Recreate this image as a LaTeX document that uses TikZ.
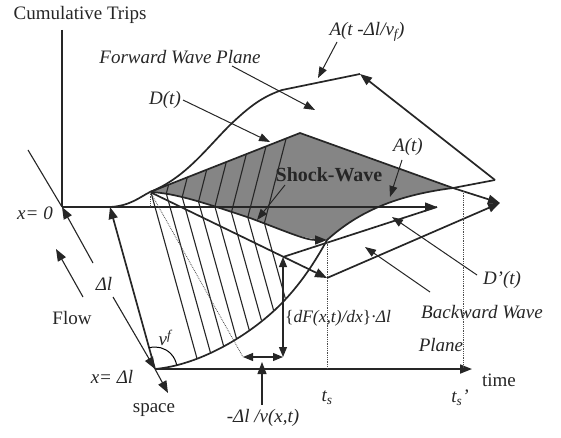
\documentclass[tikz,border=0pt]{standalone}
\usepackage{fontspec}
\setmainfont{Liberation Serif}
\usetikzlibrary{arrows.meta}
\begin{document}
\begin{tikzpicture}[x=1pt,y=-1pt,
  ln/.style={line width=1.7pt, draw=black!85},
  thn/.style={line width=1.1pt, draw=black!85},
  tip/.style={-{Triangle[length=12pt,width=9pt]}},
  ptr/.style={line width=1pt, draw=black!85, -{Triangle[length=11pt,width=8pt]}},
  dtt/.style={densely dotted, line width=0.8pt, draw=black!70},
  hatch/.style={line width=1.1pt, draw=black!85},
  lbl/.style={font=\fontsize{19}{22}\selectfont\itshape, inner sep=0pt, text=black!85},
  rlbl/.style={font=\fontsize{19}{22}\selectfont, inner sep=0pt, text=black!85}]
\fill[white] (0,0) rectangle (561,438);
\useasboundingbox (0,0) rectangle (561,438);
% points
\coordinate (O0) at (62,207);
\coordinate (V) at (62,30);
\coordinate (H) at (437,207);
\coordinate (SB) at (28,150);
\coordinate (O1) at (155,369);
\coordinate (SP) at (168,393);
\coordinate (TE) at (472,369);
\coordinate (A0) at (110,207);
\coordinate (P1) at (150,192);
\coordinate (T) at (300,133);
\coordinate (R) at (453,188);
\coordinate (S) at (327,240);
\coordinate (S2) at (327,278);
\coordinate (Q) at (500,203);
\coordinate (TT) at (360,74);
\coordinate (RR) at (495,180);
\coordinate (DA) at (283,257);
\coordinate (DB) at (283,357);
\coordinate (DL) at (243,357);
\coordinate (VA) at (262,405);
\coordinate (VB) at (262,362);
\coordinate (L1) at (93,263);
\coordinate (L2) at (113,297);
\coordinate (FA) at (83,297);
\coordinate (FB) at (56,249);
% shaded shock-wave region
\fill[black!48] (P1) -- (T) -- (R) .. controls (390,196) and (355,215) .. (S)
  .. controls (305,240) and (285,231) .. (250,218) .. controls (205,203) and (175,193) .. (P1) -- cycle;
% hatch lines (chevrons)
\draw[hatch] (151,192.5) -- (197,358.5);
\draw[hatch] (168.6,184.7) -- (166.3,193.6) -- (210.4,352.5);
\draw[hatch] (187.3,177.3) -- (182.2,197.1) -- (223.7,346.3);
\draw[hatch] (206.7,169.7) -- (198.5,201.7) -- (236.4,338.2);
\draw[hatch] (226.3,162) -- (214.9,206.6) -- (249.3,330.3);
\draw[hatch] (246.3,154.2) -- (231.4,212.4) -- (261.5,320.5);
\draw[hatch] (266,146.4) -- (247.8,217.3) -- (273.6,310.3);
\draw[hatch] (286.1,138.5) -- (264.4,223) -- (285.3,298.4);
% axes
\draw[ln] (V) -- (O0);
\draw[thn] (SB) -- (O0);
\draw[thn,tip] (O0) -- (H);
\draw[ln,tip] (O1) -- (TE);
\draw[thn,tip] (O1) -- (SP);
\draw[ln,tip] (O1) -- (A0);
\draw[thn,tip] (L1) -- (O0);
\draw[thn,tip] (L2) -- (O1);
\draw[thn,tip] (FA) -- (FB);
\draw[line width=1pt] (O1) ++(-105:22) arc (-105:-8:22);
% forward wave plane
\draw[ln] (A0) .. controls (130,206) and (140,197) .. (P1) .. controls (185,178) and (205,150) .. (230,125)
  .. controls (250,106) and (262,97) .. (282,90) -- (TT);
\draw[ln,tip] (RR) -- (TT);
\draw[ln] (RR) -- (R);
% shock wave boundaries
\draw[ln] (P1) -- (T) -- (R);
\draw[ln,tip] (P1) .. controls (175,193) and (205,203) .. (250,218) .. controls (285,231) and (305,240) .. (S);
\draw[ln] (O1) .. controls (200,365) and (250,335) .. (280,305) .. controls (300,285) and (315,262) .. (S)
  .. controls (355,215) and (390,196) .. (R);
% backward wave plane
\draw[ln,tip] (P1) -- (S2);
\draw[ln,tip] (S2) -- (Q);
\draw[ln,tip] (R) -- (Q);
\draw[ln] (DA) -- (H);
% dimensions
\draw[thn,{Triangle[length=10pt,width=8pt]}-{Triangle[length=10pt,width=8pt]}] (DA) -- (DB);
\draw[thn,{Triangle[length=10pt,width=8pt]}-{Triangle[length=10pt,width=8pt]}] (DL) -- (DB);
\draw[thn,tip] (VA) -- (VB);
\draw[dtt] (P1) -- (150,207);
\draw[dtt] (152,195) -- (DL);
\draw[dtt] (S) -- (327,369);
\draw[dtt] (463,191) -- (463,369);
% labels
\node[rlbl] (ct) at (80,15) {Cumulative Trips};
\node[lbl] (fwp) at (180,57) {Forward Wave Plane};
\node[lbl] (dt) at (165,100) {D(t)};
\node[lbl] (atf) at (367,32) {A(t -Δl/v\textsubscript{f})};
\node[lbl] (at) at (408,147) {A(t)};
\node[font=\fontsize{20}{22}\selectfont\bfseries, inner sep=0pt, text=black!85] (sw) at (329,175) {Shock-Wave};
\node[lbl] (x0) at (35,213) {x= 0};
\node[lbl] (dl) at (104,284) {Δl};
\node[rlbl] (flow) at (72,318) {Flow};
\node[lbl] (vf) at (165,338) {v\textsuperscript{f}};
\node[lbl] (xdl) at (112,377) {x= Δl};
\node[rlbl] (space) at (154,410) {space};
\node[lbl] (dlv) at (263,418) {-Δl /v(x,t)};
\node[font=\fontsize{17.5}{20}\selectfont\itshape, inner sep=0pt, text=black!85] (dfdx) at (338,318) {{\upshape\{}dF(x,t)/dx{\upshape\}}·Δl};
\node[lbl] (dp) at (502,280) {D’(t)};
\node[lbl] (bw) at (482,312) {Backward Wave};
\node[lbl] (pl) at (441,345) {Plane};
\node[rlbl] (time) at (499,380) {time};
\node[lbl] (ts) at (327,398) {t\textsubscript{s}};
\node[lbl] (tsp) at (460,398) {t\textsubscript{s}’};
% pointers
\coordinate (p1a) at (232,66); \coordinate (p1b) at (315,110);
\coordinate (p2a) at (183,100); \coordinate (p2b) at (270,142);
\coordinate (p3a) at (337,42); \coordinate (p3b) at (318,78);
\coordinate (p4a) at (402,160); \coordinate (p4b) at (390,197);
\coordinate (p5a) at (285,185); \coordinate (p5b) at (257,220);
\coordinate (p6a) at (477,275); \coordinate (p6b) at (392,217);
\coordinate (p7a) at (430,292); \coordinate (p7b) at (365,247);
\draw[ptr] (p1a) -- (p1b);
\draw[ptr] (p2a) -- (p2b);
\draw[ptr] (p3a) -- (p3b);
\draw[ptr] (p4a) -- (p4b);
\draw[ptr] (p5a) -- (p5b);
\draw[ptr] (p6a) -- (p6b);
\draw[ptr] (p7a) -- (p7b);
\end{tikzpicture}
\end{document}
